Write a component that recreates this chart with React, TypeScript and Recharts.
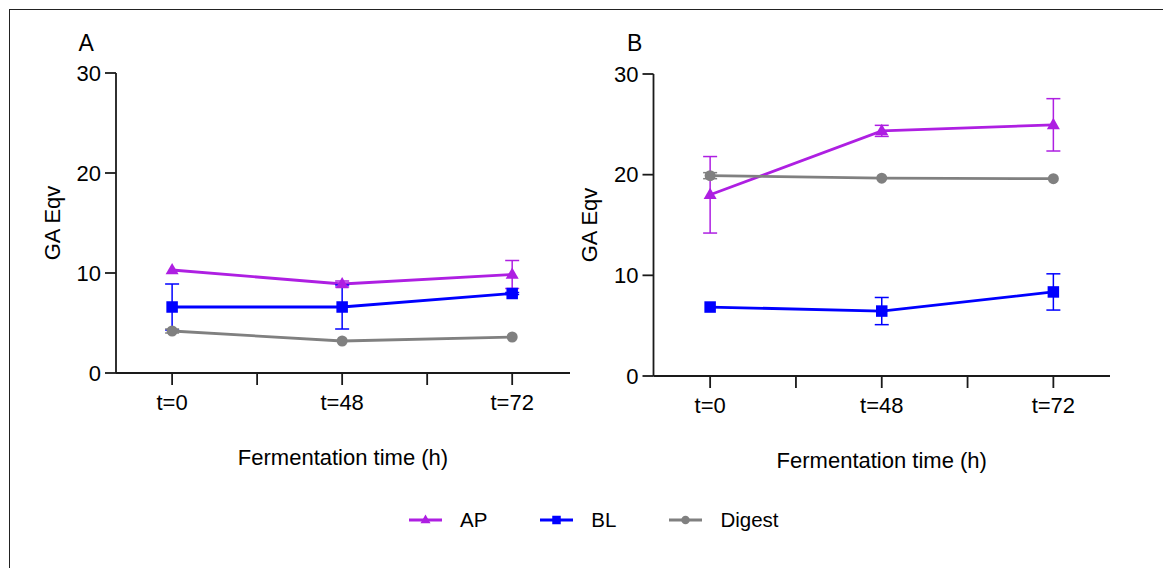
import { ErrorBar, Legend, Line, LineChart, XAxis, YAxis } from "recharts";

const categories = ["t=0", "t=48", "t=72"];
const seriesNames = ["AP", "BL", "Digest"];
const seriesColors = ["#AE1FE2", "#0000FF", "#808080"];
const seriesShapes = ["triangle", "square", "circle"];

// panel A
const apA = [10.3, 8.9, 9.85];
const apAErr = [0, 0.3, 1.4];
const blA = [6.6, 6.6, 7.95];
const blAErr = [2.3, 2.2, 0.1];
const digestA = [4.2, 3.2, 3.6];
const digestAErr = [0.2, 0, 0];

// panel B
const apB = [18.0, 24.35, 24.95];
const apBErr = [3.8, 0.55, 2.6];
const blB = [6.85, 6.45, 8.35];
const blBErr = [0, 1.35, 1.8];
const digestB = [19.9, 19.65, 19.6];
const digestBErr = [0.3, 0, 0];

const yTicks = [0, 10, 20, 30];
const xTicks = [0, 0.5, 1, 1.5, 2];

const FONT = "'Liberation Sans', Arial, sans-serif";
const AXIS = "#1a1a1a";
const W = 1163;
const H = 500;

function buildRows(
    ap: number[], apErr: number[],
    bl: number[], blErr: number[],
    dg: number[], dgErr: number[],
) {
    return categories.map((cat, i) => ({
        x: i,
        cat,
        AP: ap[i],
        APErr: apErr[i],
        BL: bl[i],
        BLErr: blErr[i],
        Digest: dg[i],
        DigestErr: dgErr[i],
    }));
}

const rowsA = buildRows(apA, apAErr, blA, blAErr, digestA, digestAErr);
const rowsB = buildRows(apB, apBErr, blB, blBErr, digestB, digestBErr);

function Marker({ shape, cx, cy, size, color }: any) {
    if (shape === "triangle") {
        const h = size * 0.87;
        const pts = `${cx},${cy - h * 0.62} ${cx - size / 2},${cy + h * 0.38} ${cx + size / 2},${cy + h * 0.38}`;
        return <polygon points={pts} fill={color} />;
    }
    if (shape === "square") {
        return <rect x={cx - size / 2} y={cy - size / 2} width={size} height={size} fill={color} />;
    }
    return <circle cx={cx} cy={cy} r={size / 2} fill={color} />;
}

const markerSizes = [13, 11.5, 11];

const makeDot = (shape: string, color: string, size: number) => (props: any) => (
    <Marker key={`${shape}-${props.index}`} shape={shape} cx={props.cx} cy={props.cy} size={size} color={color} />
);

function LegendContent(props: any) {
    const payload = props.payload ?? [];
    return (
        <div style={{ display: "flex", alignItems: "center", gap: 53, fontFamily: FONT }}>
            {payload.map((entry: any) => {
                const i = seriesNames.indexOf(entry.value);
                return (
                    <div key={entry.value} style={{ display: "flex", alignItems: "center", height: 24 }}>
                        <svg width={33} height={16}>
                            <line x1={0} y1={8} x2={33} y2={8} stroke={seriesColors[i]} strokeWidth={3} />
                            <Marker shape={seriesShapes[i]} cx={16.5} cy={8} size={i === 0 ? 10 : 8.5} color={seriesColors[i]} />
                        </svg>
                        <span style={{ marginLeft: 18, fontSize: 20.5, color: "#000", lineHeight: "24px" }}>
                            {entry.value}
                        </span>
                    </div>
                );
            })}
        </div>
    );
}

interface PanelProps {
    rows: any[];
    margin: { top: number; right: number; bottom: number; left: number };
    domain: [number, number];
    labelOffset: number;
    withLegend?: boolean;
}

function Panel({ rows, margin, domain, labelOffset, withLegend }: PanelProps) {
    return (
        <div style={{ position: "absolute", left: 0, top: 0 }}>
            <LineChart width={W} height={H} data={rows} margin={margin}>
                <XAxis
                    type="number"
                    dataKey="x"
                    domain={domain}
                    ticks={xTicks}
                    tickFormatter={(v: number) => (Number.isInteger(v) ? categories[v] : "")}
                    height={100}
                    stroke={AXIS}
                    strokeWidth={1.8}
                    tickSize={12}
                    tickMargin={9}
                    tick={{ fill: "#000", fontSize: 22, fontFamily: FONT }}
                    label={{
                        value: "Fermentation time (h)",
                        position: "insideTop",
                        offset: 76,
                        style: { fontSize: 22, fill: "#000", fontFamily: FONT },
                    }}
                />
                <YAxis
                    domain={[0, 30]}
                    ticks={yTicks}
                    width={108}
                    stroke={AXIS}
                    strokeWidth={1.8}
                    tickSize={11}
                    tickMargin={4}
                    tick={{ fill: "#000", fontSize: 22, fontFamily: FONT }}
                    label={{
                        value: "GA Eqv",
                        angle: -90,
                        position: "insideLeft",
                        offset: labelOffset,
                        style: { textAnchor: "middle", fontSize: 22, fill: "#000", fontFamily: FONT },
                    }}
                />
                {seriesNames.map((name, i) => (
                    <Line
                        key={name}
                        dataKey={name}
                        name={name}
                        stroke={seriesColors[i]}
                        strokeWidth={2.8}
                        dot={makeDot(seriesShapes[i], seriesColors[i], markerSizes[i])}
                        activeDot={false}
                        isAnimationActive={false}
                    >
                        <ErrorBar
                            dataKey={`${name}Err`}
                            direction="y"
                            width={7}
                            strokeWidth={1.5}
                            stroke={seriesColors[i]}
                            isAnimationActive={false}
                        />
                    </Line>
                ))}
                {withLegend && (
                    <Legend
                        layout="horizontal"
                        verticalAlign="middle"
                        align="center"
                        content={LegendContent}
                        wrapperStyle={{ left: 401, top: 500, width: "auto" }}
                    />
                )}
            </LineChart>
        </div>
    );
}

export default function App() {
    return (
        <div
            style={{
                position: "relative",
                width: W,
                height: 560,
                overflow: "hidden",
                fontFamily: FONT,
                background: "#fff",
            }}
        >
            <style>{"html,body{overflow:hidden}"}</style>
            <div
                style={{
                    position: "absolute",
                    left: 1,
                    top: 0.5,
                    width: 1300,
                    height: 700,
                    borderLeft: "1.5px solid #222",
                    borderTop: "1.5px solid #222",
                }}
            />
            <div style={{ position: "absolute", left: 70.5, top: 22, fontSize: 23, color: "#000" }}>A</div>
            <div style={{ position: "absolute", left: 619, top: 22, fontSize: 23, color: "#000" }}>B</div>
            <Panel
                rows={rowsA}
                margin={{ top: 65, right: 601, bottom: 35, left: 0 }}
                domain={[-0.33, 2.34]}
                labelOffset={44}
                withLegend
            />
            <Panel
                rows={rowsB}
                margin={{ top: 66, right: 61, bottom: 32, left: 537.5 }}
                domain={[-0.33, 2.33]}
                labelOffset={43.5}
            />
        </div>
    );
}
